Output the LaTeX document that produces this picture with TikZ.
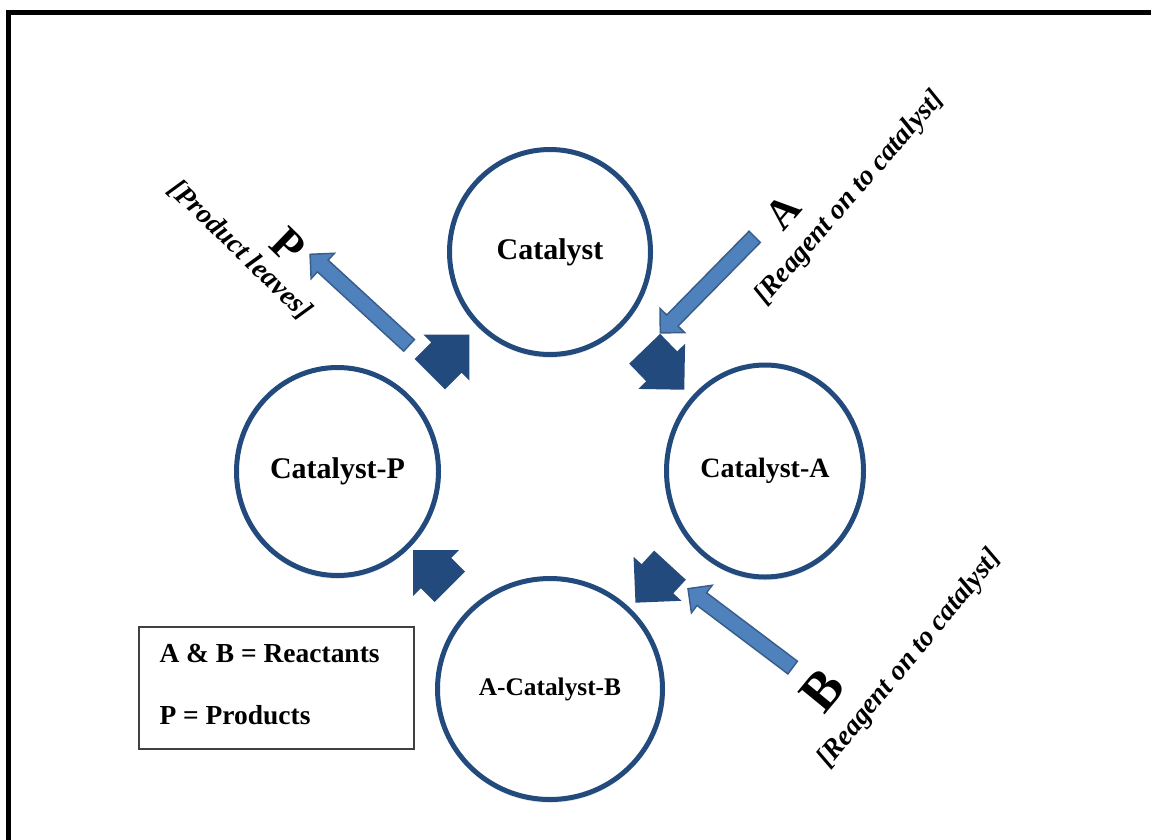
\documentclass[tikz,border=0pt]{standalone}
\usepackage{fontspec}
\setmainfont{Liberation Serif}
\usetikzlibrary{shapes.geometric,shapes.arrows,shadows}

\definecolor{cycleblue}{RGB}{35,74,124}
\definecolor{reagentfill}{RGB}{79,129,189}
\definecolor{reagentline}{RGB}{56,93,138}

\tikzset{every picture/.style={line width=0.75pt}}
\tikzset{
  stage/.style={ellipse, draw=cycleblue, line width=3.75pt, fill=white, inner sep=0pt,
    drop shadow={opacity=0.2, shadow xshift=0pt, shadow yshift=-2.5pt}},
  turn/.style={single arrow, fill=cycleblue, draw=none, inner xsep=0pt, inner ysep=15.75pt,
    single arrow tip angle=90, single arrow head extend=8.25pt},
  reagent/.style={single arrow, fill=reagentfill, draw=reagentline, line width=1.1pt, inner xsep=0pt, inner ysep=5.4pt,
    single arrow tip angle=90, single arrow head extend=7pt},
  note/.style={inner sep=0.75pt, font=\fontsize{21}{25}\bfseries\itshape\selectfont},
  species/.style={inner sep=0.75pt},
}

\begin{document}
\begin{tikzpicture}[x=0.75pt,y=0.75pt,yscale=-1,xscale=1]
	\path[use as bounding box] (0,0) rectangle (1151,839);
	\clip (0,0) rectangle (1151,839);

	%Shape: Frame
	\draw [line width=3.75pt] (8,12) rectangle (1175,870);

	%Shape: Ellipse [catalyst]
	\node [stage, minimum width=150.75pt, minimum height=153.75pt, font=\fontsize{22.5}{27}\bfseries\selectfont] (cat) at (550,252) {Catalyst};
	%Shape: Ellipse [catalyst-A]
	\node [stage, minimum width=147.75pt, minimum height=159pt, font=\fontsize{21}{25}\bfseries\selectfont] (catA) at (765,471) {Catalyst-A};
	%Shape: Ellipse [A-catalyst-B]
	\node [stage, minimum width=168.75pt, minimum height=165.75pt, font=\fontsize{19}{23}\bfseries\selectfont] (catAB) at (550,689) {A-Catalyst-B};
	%Shape: Ellipse [catalyst-P]
	\node [stage, minimum width=151.5pt, minimum height=156pt, font=\fontsize{22.5}{27}\bfseries\selectfont] (catP) at (337.5,471.5) {Catalyst-P};

	%Shape: Block Arrows (cycle)
	\node [turn, minimum height=42pt, rotate=45] (turnPC) at (442,362) {};
	\node [turn, minimum height=42.75pt, rotate=-46] (turnCA) at (657,361.5) {};
	\node [turn, minimum height=38.25pt, rotate=-132.6] (turnAB) at (660,576) {};
	\node [turn, minimum height=39pt, rotate=135] (turnBP) at (439,576) {};

	%Shape: Right Arrows (reagents)
	\node [reagent, minimum height=100.9pt, rotate=137.4] (arrP) at (362.5,302.5) {};
	\node [reagent, minimum height=101pt, rotate=-134.5] (arrA) at (710.25,282) {};
	\node [reagent, minimum height=98.3pt, rotate=143] (arrB) at (743.5,630.5) {};

	% Text Node
	\node [species, rotate=-44, font=\fontsize{34.5}{40}\bfseries\selectfont] (labP) at (288,245) {P};
	% Text Node
	\node [note, rotate=-44] (noteP) at (240,250) {[Product leaves]};
	% Text Node
	\node [species, rotate=49, font=\fontsize{31.5}{37}\bfseries\selectfont] (labA) at (783,212) {A};
	% Text Node
	\node [note, rotate=49] (noteA) at (850,198) {[Reagent on to catalyst]};
	% Text Node
	\node [species, rotate=50.6, font=\fontsize{40.5}{46}\bfseries\selectfont] (labB) at (822,690) {B};
	% Text Node
	\node [note, rotate=50.6] (noteB) at (910,659) {[Reagent on to catalyst]};

	%Shape: Rectangle [legend]
	\node [draw=black!75, line width=0.9pt, minimum width=206.25pt, minimum height=91.5pt] (legend) at (276.5,688) {};
	% Text Node
	\node [species, anchor=west, font=\fontsize{20.6}{24}\bfseries\selectfont] (legAB) at (158,653) {A \& B = Reactants};
	% Text Node
	\node [species, anchor=west, font=\fontsize{20.6}{24}\bfseries\selectfont] (legP) at (158,715) {P = Products};

\end{tikzpicture}
\end{document}
